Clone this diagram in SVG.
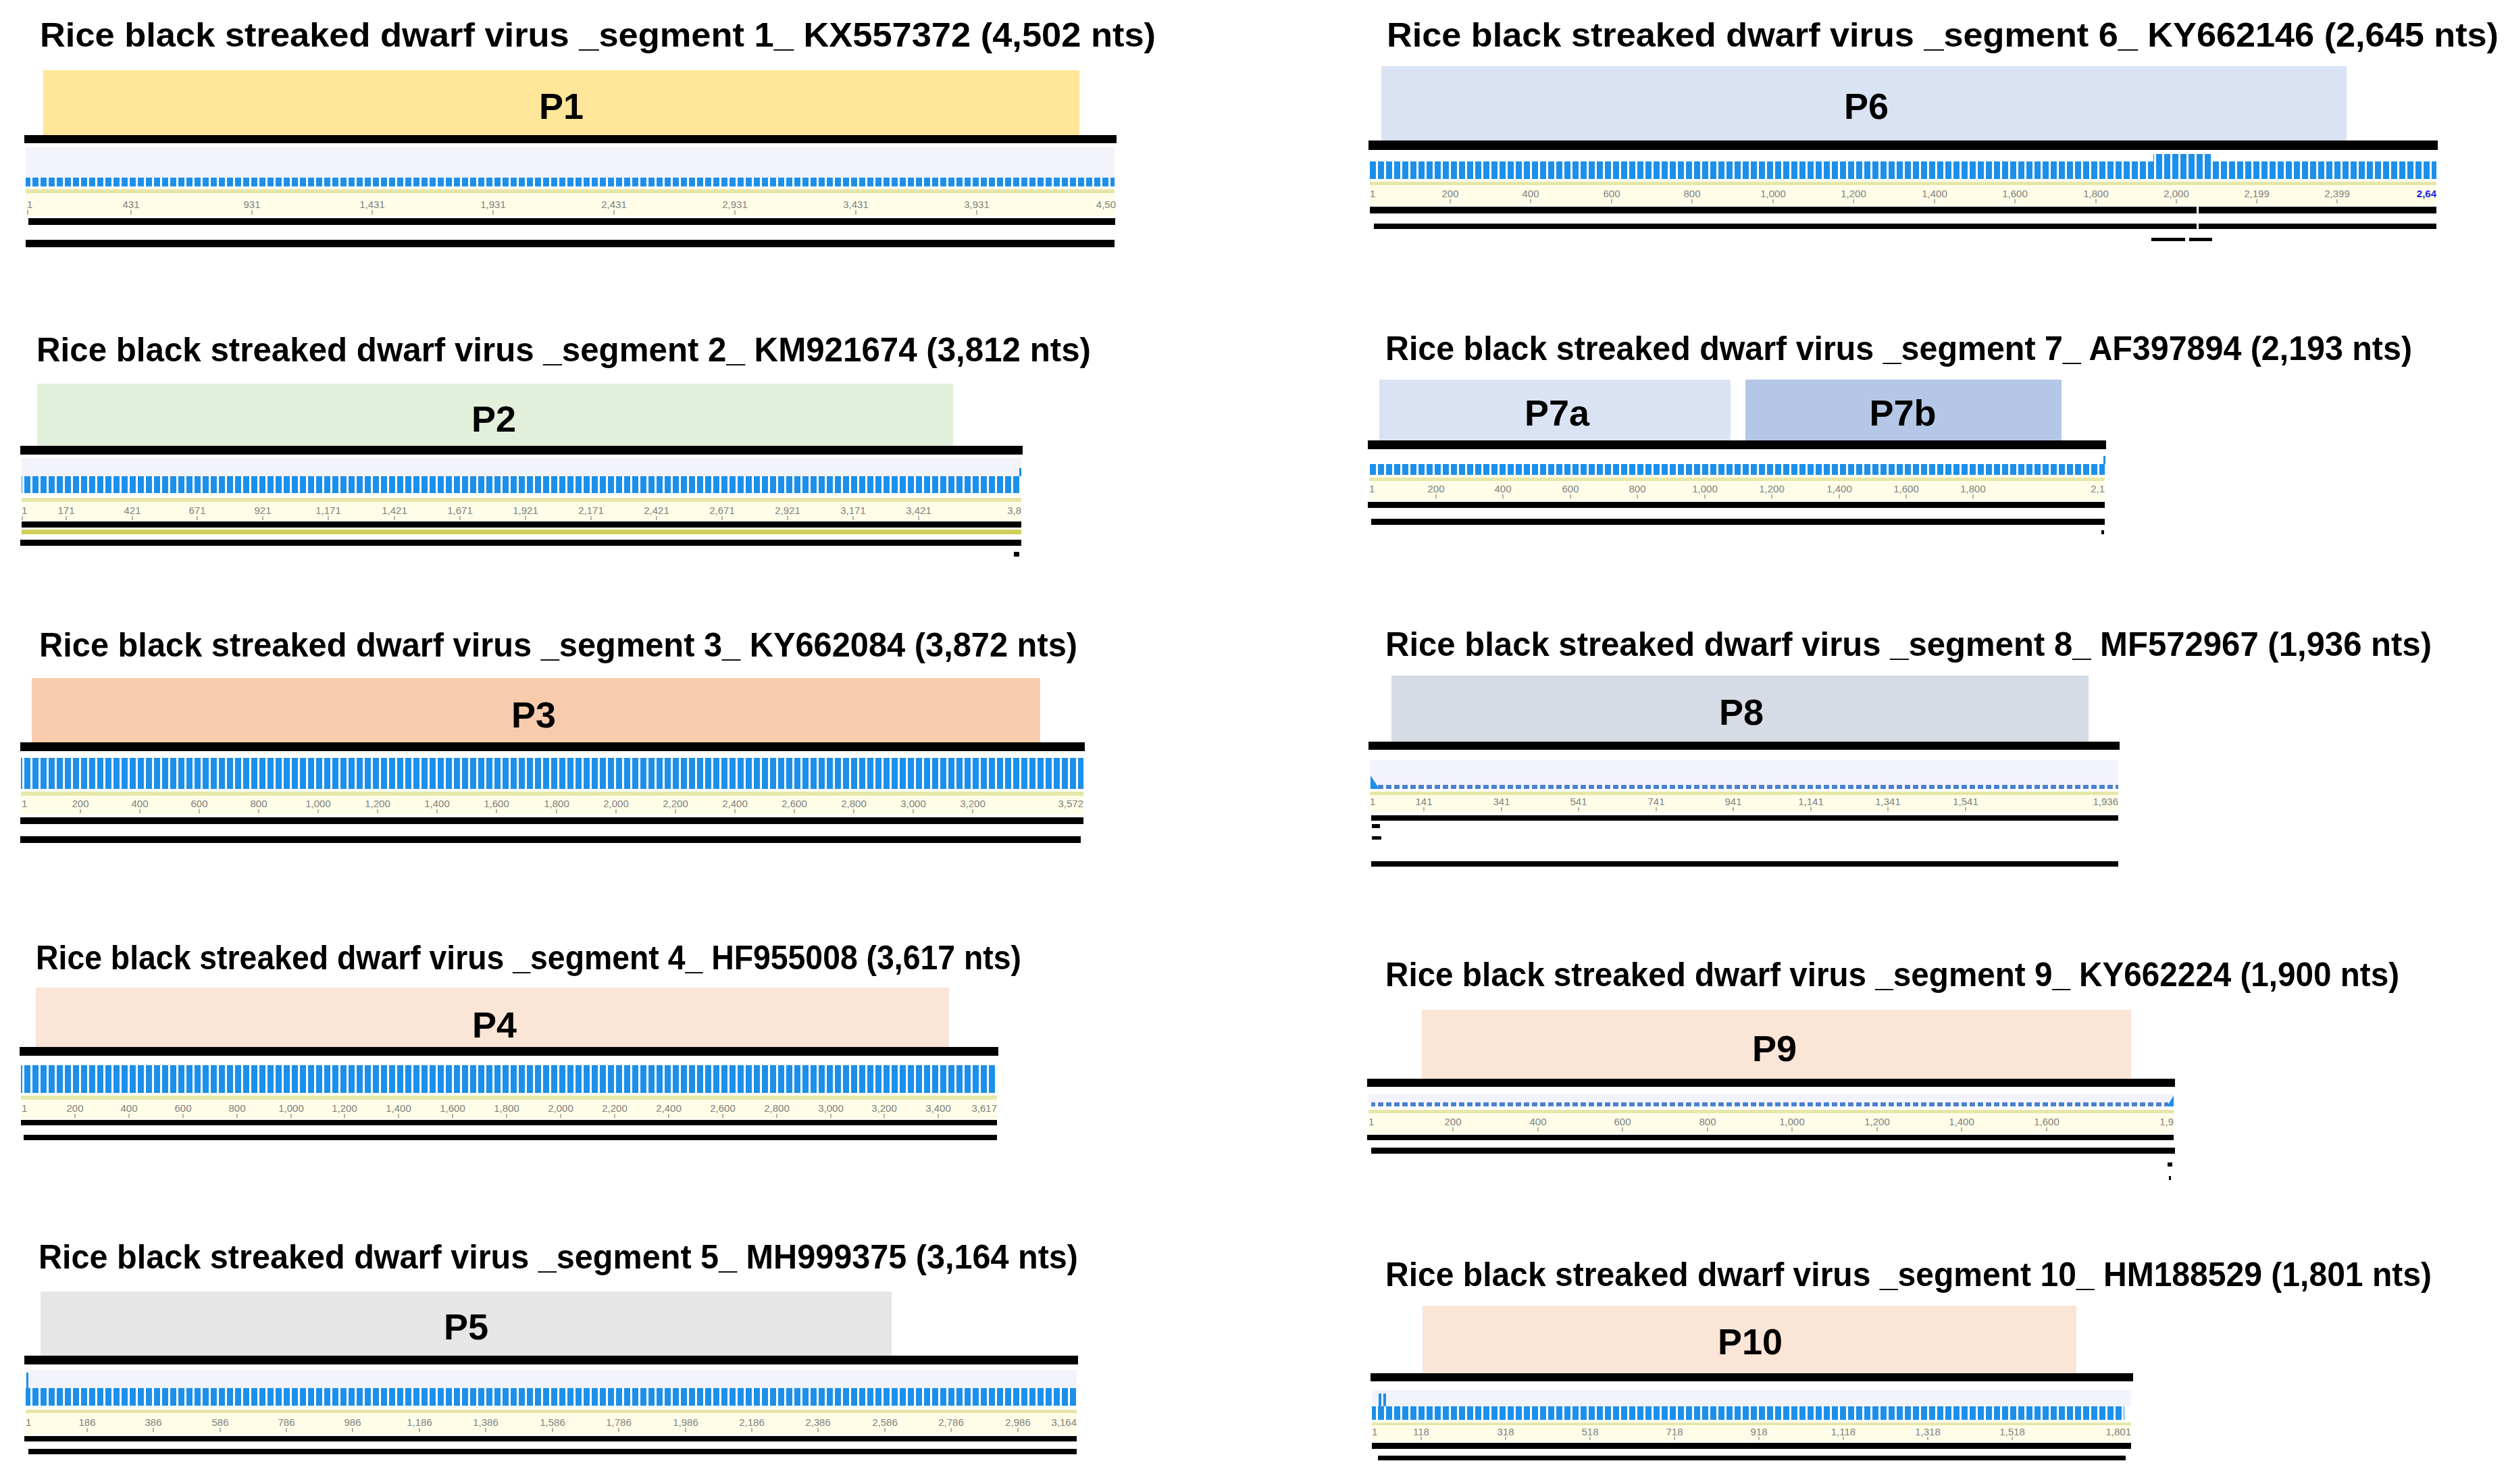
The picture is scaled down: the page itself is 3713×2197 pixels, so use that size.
<svg xmlns="http://www.w3.org/2000/svg" width="3713" height="2197" viewBox="0 0 3713 2197">
<defs>
<style>
.t{font-family:"Liberation Sans",Arial,sans-serif;font-weight:700;font-size:50px;fill:#000}
.p{font-family:"Liberation Sans",Arial,sans-serif;font-weight:700;font-size:54px;fill:#000;text-anchor:middle}
.n{font-family:"Liberation Sans",Arial,sans-serif;font-size:15px;fill:#808080;text-anchor:middle}
.ns{text-anchor:start}.ne{text-anchor:end}
.k{fill:#000}
.lav{fill:#F3F3FC}
.yl{fill:#E6E6A8}
.rl{fill:#FFFDE8}
.tk{stroke:#9a9a9a;stroke-width:1.5;fill:none}
.bar{fill:url(#bars)}
.dsh{fill:url(#dash)}
.sp{fill:#1C8FEA}
</style>
<pattern id="bars" patternUnits="userSpaceOnUse" width="12" height="400"><rect x="0" y="0" width="9" height="400" fill="#1C8FEA"/></pattern>
<pattern id="dash" patternUnits="userSpaceOnUse" width="12" height="400"><rect x="0" y="0" width="8" height="400" fill="#4A80D0"/></pattern>
</defs>
<rect width="3713" height="2197" fill="#fff"/>

<g id="seg1">
<text class="t" x="59" y="69" textLength="1652" lengthAdjust="spacingAndGlyphs">Rice black streaked dwarf virus _segment 1_ KX557372 (4,502 nts)</text>
<rect x="64" y="104" width="1534" height="96" fill="#FFE699"/>
<text class="p" x="831" y="176">P1</text>
<rect class="k" x="36" y="200" width="1617" height="12"/>
<rect class="lav" x="38" y="218" width="1612" height="45"/>
<rect class="bar" x="38" y="263" width="1612" height="13"/>
<rect class="yl" x="38" y="280" width="1612" height="6"/>
<rect class="rl" x="38" y="286" width="1612" height="34"/>
<g>
<text class="n ns" x="40" y="308">1</text><text class="n" x="194" y="308">431</text><text class="n" x="373" y="308">931</text><text class="n" x="551" y="308">1,431</text><text class="n" x="730" y="308">1,931</text><text class="n" x="909" y="308">2,431</text><text class="n" x="1088" y="308">2,931</text><text class="n" x="1267" y="308">3,431</text><text class="n" x="1446" y="308">3,931</text><text class="n ne" x="1652" y="308">4,50</text>
<path class="tk" d="M41 311V318M194 311V318M373 311V318M551 311V318M730 311V318M909 311V318M1088 311V318M1267 311V318M1446 311V318"/>
</g>
<rect class="k" x="42" y="323" width="1609" height="10"/>
<rect class="k" x="38" y="355" width="1612" height="11"/>
</g>

<g id="seg2">
<text class="t" x="54" y="535" textLength="1561" lengthAdjust="spacingAndGlyphs">Rice black streaked dwarf virus _segment 2_ KM921674 (3,812 nts)</text>
<rect x="55" y="568" width="1356" height="92" fill="#E2EFDA"/>
<text class="p" x="731" y="639">P2</text>
<rect class="k" x="30" y="660" width="1484" height="13"/>
<rect class="lav" x="32" y="678" width="1480" height="27"/>
<rect class="bar" x="32" y="705" width="1480" height="25"/>
<rect class="sp" x="1509" y="693" width="3" height="12"/>
<rect class="yl" x="32" y="737" width="1480" height="6"/>
<rect class="rl" x="32" y="743" width="1480" height="29"/>
<g>
<text class="n ns" x="32" y="761">1</text><text class="n" x="98" y="761">171</text><text class="n" x="196" y="761">421</text><text class="n" x="292" y="761">671</text><text class="n" x="389" y="761">921</text><text class="n" x="486" y="761">1,171</text><text class="n" x="584" y="761">1,421</text><text class="n" x="681" y="761">1,671</text><text class="n" x="778" y="761">1,921</text><text class="n" x="875" y="761">2,171</text><text class="n" x="972" y="761">2,421</text><text class="n" x="1069" y="761">2,671</text><text class="n" x="1166" y="761">2,921</text><text class="n" x="1263" y="761">3,171</text><text class="n" x="1360" y="761">3,421</text><text class="n ne" x="1512" y="761">3,8</text>
<path class="tk" d="M33 764V770M98 764V770M196 764V770M292 764V770M389 764V770M486 764V770M584 764V770M681 764V770M778 764V770M875 764V770M972 764V770M1069 764V770M1166 764V770M1263 764V770M1360 764V770"/>
</g>
<rect class="k" x="32" y="772" width="1480" height="9"/>
<rect x="32" y="784" width="1480" height="7" fill="#CFCF5A"/>
<rect class="k" x="30" y="799" width="1482" height="9"/>
<rect class="k" x="1501" y="817" width="8" height="7"/>
</g>

<g id="seg3">
<text class="t" x="58" y="972" textLength="1537" lengthAdjust="spacingAndGlyphs">Rice black streaked dwarf virus _segment 3_ KY662084 (3,872 nts)</text>
<rect x="47" y="1004" width="1493" height="95" fill="#F8CBAD"/>
<text class="p" x="790" y="1077">P3</text>
<rect class="k" x="30" y="1099" width="1576" height="13"/>
<rect class="bar" x="31" y="1122" width="1573" height="46"/>
<rect class="yl" x="31" y="1172" width="1573" height="6"/>
<rect class="rl" x="31" y="1178" width="1573" height="28"/>
<g>
<text class="n ns" x="32" y="1195">1</text><text class="n" x="119" y="1195">200</text><text class="n" x="207" y="1195">400</text><text class="n" x="295" y="1195">600</text><text class="n" x="383" y="1195">800</text><text class="n" x="471" y="1195">1,000</text><text class="n" x="559" y="1195">1,200</text><text class="n" x="647" y="1195">1,400</text><text class="n" x="735" y="1195">1,600</text><text class="n" x="824" y="1195">1,800</text><text class="n" x="912" y="1195">2,000</text><text class="n" x="1000" y="1195">2,200</text><text class="n" x="1088" y="1195">2,400</text><text class="n" x="1176" y="1195">2,600</text><text class="n" x="1264" y="1195">2,800</text><text class="n" x="1352" y="1195">3,000</text><text class="n" x="1440" y="1195">3,200</text><text class="n ne" x="1604" y="1195">3,572</text>
<path class="tk" d="M119 1198V1204M207 1198V1204M295 1198V1204M383 1198V1204M471 1198V1204M559 1198V1204M647 1198V1204M735 1198V1204M824 1198V1204M912 1198V1204M1000 1198V1204M1088 1198V1204M1176 1198V1204M1264 1198V1204M1352 1198V1204M1440 1198V1204"/>
</g>
<rect class="k" x="30" y="1210" width="1574" height="10"/>
<rect class="k" x="30" y="1238" width="1570" height="10"/>
</g>

<g id="seg4">
<text class="t" x="53" y="1435" textLength="1459" lengthAdjust="spacingAndGlyphs">Rice black streaked dwarf virus _segment 4_ HF955008 (3,617 nts)</text>
<rect x="53" y="1462" width="1352" height="88" fill="#FBE5D6"/>
<text class="p" x="732" y="1536">P4</text>
<rect class="k" x="29" y="1550" width="1449" height="13"/>
<rect class="bar" x="31" y="1577" width="1445" height="41"/>
<rect class="yl" x="31" y="1622" width="1445" height="6"/>
<rect class="rl" x="31" y="1628" width="1445" height="29"/>
<g>
<text class="n ns" x="32" y="1646">1</text><text class="n" x="111" y="1646">200</text><text class="n" x="191" y="1646">400</text><text class="n" x="271" y="1646">600</text><text class="n" x="351" y="1646">800</text><text class="n" x="431" y="1646">1,000</text><text class="n" x="510" y="1646">1,200</text><text class="n" x="590" y="1646">1,400</text><text class="n" x="670" y="1646">1,600</text><text class="n" x="750" y="1646">1,800</text><text class="n" x="830" y="1646">2,000</text><text class="n" x="910" y="1646">2,200</text><text class="n" x="990" y="1646">2,400</text><text class="n" x="1070" y="1646">2,600</text><text class="n" x="1150" y="1646">2,800</text><text class="n" x="1230" y="1646">3,000</text><text class="n" x="1309" y="1646">3,200</text><text class="n" x="1389" y="1646">3,400</text><text class="n ne" x="1476" y="1646">3,617</text>
<path class="tk" d="M111 1649V1655M191 1649V1655M271 1649V1655M351 1649V1655M431 1649V1655M510 1649V1655M590 1649V1655M670 1649V1655M750 1649V1655M830 1649V1655M910 1649V1655M990 1649V1655M1070 1649V1655M1150 1649V1655M1230 1649V1655M1309 1649V1655M1389 1649V1655"/>
</g>
<rect class="k" x="31" y="1658" width="1445" height="8"/>
<rect class="k" x="35" y="1680" width="1441" height="8"/>
</g>

<g id="seg5">
<text class="t" x="57" y="1878" textLength="1539" lengthAdjust="spacingAndGlyphs">Rice black streaked dwarf virus _segment 5_ MH999375 (3,164 nts)</text>
<rect x="60" y="1912" width="1260" height="95" fill="#E7E6E6"/>
<text class="p" x="690" y="1983">P5</text>
<rect class="k" x="36" y="2007" width="1560" height="13"/>
<rect class="lav" x="38" y="2028" width="1556" height="27"/>
<rect class="bar" x="38" y="2055" width="1556" height="26"/>
<rect class="sp" x="39" y="2032" width="3" height="23"/>
<rect class="yl" x="38" y="2087" width="1556" height="5"/>
<rect class="rl" x="38" y="2092" width="1556" height="31"/>
<g>
<text class="n ns" x="38" y="2111">1</text><text class="n" x="129" y="2111">186</text><text class="n" x="227" y="2111">386</text><text class="n" x="326" y="2111">586</text><text class="n" x="424" y="2111">786</text><text class="n" x="522" y="2111">986</text><text class="n" x="621" y="2111">1,186</text><text class="n" x="719" y="2111">1,386</text><text class="n" x="818" y="2111">1,586</text><text class="n" x="916" y="2111">1,786</text><text class="n" x="1015" y="2111">1,986</text><text class="n" x="1113" y="2111">2,186</text><text class="n" x="1211" y="2111">2,386</text><text class="n" x="1310" y="2111">2,586</text><text class="n" x="1408" y="2111">2,786</text><text class="n" x="1507" y="2111">2,986</text><text class="n ne" x="1594" y="2111">3,164</text>
<path class="tk" d="M129 2114V2120M227 2114V2120M326 2114V2120M424 2114V2120M522 2114V2120M621 2114V2120M719 2114V2120M818 2114V2120M916 2114V2120M1015 2114V2120M1113 2114V2120M1211 2114V2120M1310 2114V2120M1408 2114V2120M1507 2114V2120"/>
</g>
<rect class="k" x="36" y="2126" width="1558" height="8"/>
<rect class="k" x="42" y="2145" width="1552" height="8"/>
</g>

<g id="seg6">
<text class="t" x="2053" y="69" textLength="1646" lengthAdjust="spacingAndGlyphs">Rice black streaked dwarf virus _segment 6_ KY662146 (2,645 nts)</text>
<rect x="2045" y="98" width="1429" height="110" fill="#DAE3F3"/>
<text class="p" x="2763" y="176">P6</text>
<rect class="k" x="2026" y="208" width="1583" height="14"/>
<rect class="bar" x="2028" y="239" width="1579" height="26"/>
<rect class="bar" x="3188" y="228" width="87" height="11"/>
<rect class="yl" x="2028" y="269" width="1579" height="5"/>
<rect class="rl" x="2028" y="274" width="1579" height="30"/>
<g>
<text class="n ns" x="2028" y="292">1</text><text class="n" x="2147" y="292">200</text><text class="n" x="2266" y="292">400</text><text class="n" x="2386" y="292">600</text><text class="n" x="2505" y="292">800</text><text class="n" x="2625" y="292">1,000</text><text class="n" x="2744" y="292">1,200</text><text class="n" x="2864" y="292">1,400</text><text class="n" x="2983" y="292">1,600</text><text class="n" x="3103" y="292">1,800</text><text class="n" x="3222" y="292">2,000</text><text class="n" x="3341" y="292">2,199</text><text class="n" x="3460" y="292">2,399</text><text class="n ne" x="3607" y="292" style="fill:#2020E0;font-weight:700">2,64</text>
<path class="tk" d="M2147 295V301M2266 295V301M2386 295V301M2505 295V301M2625 295V301M2744 295V301M2864 295V301M2983 295V301M3103 295V301M3222 295V301M3341 295V301M3460 295V301"/>
</g>
<rect class="k" x="2028" y="306" width="1224" height="10"/>
<rect class="k" x="3255" y="306" width="352" height="10"/>
<rect class="k" x="2034" y="331" width="1218" height="8"/>
<rect class="k" x="3255" y="331" width="352" height="8"/>
<rect class="k" x="3185" y="352" width="50" height="5"/>
<rect class="k" x="3241" y="352" width="34" height="5"/>
</g>

<g id="seg7">
<text class="t" x="2051" y="533" textLength="1520" lengthAdjust="spacingAndGlyphs">Rice black streaked dwarf virus _segment 7_ AF397894 (2,193 nts)</text>
<rect x="2042" y="562" width="520" height="90" fill="#DAE3F3"/>
<rect x="2584" y="562" width="468" height="90" fill="#B4C7E7"/>
<text class="p" x="2305" y="630">P7a</text>
<text class="p" x="2817" y="630">P7b</text>
<rect class="k" x="2025" y="652" width="1093" height="13"/>
<rect class="bar" x="2027" y="687" width="1089" height="16"/>
<rect class="sp" x="3114" y="675" width="3" height="12"/>
<rect class="yl" x="2027" y="707" width="1089" height="5"/>
<rect class="rl" x="2027" y="712" width="1089" height="28"/>
<g>
<text class="n ns" x="2027" y="729">1</text><text class="n" x="2126" y="729">200</text><text class="n" x="2225" y="729">400</text><text class="n" x="2325" y="729">600</text><text class="n" x="2424" y="729">800</text><text class="n" x="2524" y="729">1,000</text><text class="n" x="2623" y="729">1,200</text><text class="n" x="2723" y="729">1,400</text><text class="n" x="2822" y="729">1,600</text><text class="n" x="2921" y="729">1,800</text><text class="n ne" x="3116" y="729">2,1</text>
<path class="tk" d="M2126 732V738M2225 732V738M2325 732V738M2424 732V738M2524 732V738M2623 732V738M2723 732V738M2822 732V738M2921 732V738"/>
</g>
<rect class="k" x="2025" y="743" width="1091" height="9"/>
<rect class="k" x="2030" y="768" width="1086" height="9"/>
<rect class="k" x="3111" y="785" width="4" height="6"/>
</g>

<g id="seg8">
<text class="t" x="2051" y="971" textLength="1549" lengthAdjust="spacingAndGlyphs">Rice black streaked dwarf virus _segment 8_ MF572967 (1,936 nts)</text>
<rect x="2060" y="1000" width="1032" height="98" fill="#D6DCE5"/>
<text class="p" x="2578" y="1073">P8</text>
<rect class="k" x="2026" y="1098" width="1112" height="12"/>
<rect class="lav" x="2028" y="1125" width="1108" height="38"/>
<rect class="dsh" x="2040" y="1162" width="1096" height="6"/>
<path d="M2029 1148L2042 1168H2029Z" class="sp"/>
<rect class="yl" x="2028" y="1172" width="1108" height="5"/>
<rect class="rl" x="2028" y="1177" width="1108" height="26"/>
<g>
<text class="n ns" x="2028" y="1192">1</text><text class="n" x="2108" y="1192">141</text><text class="n" x="2223" y="1192">341</text><text class="n" x="2337" y="1192">541</text><text class="n" x="2452" y="1192">741</text><text class="n" x="2566" y="1192">941</text><text class="n" x="2681" y="1192">1,141</text><text class="n" x="2795" y="1192">1,341</text><text class="n" x="2910" y="1192">1,541</text><text class="n ne" x="3136" y="1192">1,936</text>
<path class="tk" d="M2108 1195V1201M2223 1195V1201M2337 1195V1201M2452 1195V1201M2566 1195V1201M2681 1195V1201M2795 1195V1201M2910 1195V1201"/>
</g>
<rect class="k" x="2030" y="1207" width="1106" height="8"/>
<rect class="k" x="2031" y="1220" width="12" height="6"/>
<rect class="k" x="2031" y="1238" width="14" height="5"/>
<rect class="k" x="2030" y="1275" width="1106" height="8"/>
</g>

<g id="seg9">
<text class="t" x="2051" y="1460" textLength="1501" lengthAdjust="spacingAndGlyphs">Rice black streaked dwarf virus _segment 9_ KY662224 (1,900 nts)</text>
<rect x="2105" y="1495" width="1050" height="102" fill="#FBE5D6"/>
<text class="p" x="2627" y="1571">P9</text>
<rect class="k" x="2024" y="1597" width="1196" height="12"/>
<rect class="lav" x="2026" y="1620" width="1192" height="12"/>
<rect class="dsh" x="2030" y="1632" width="1180" height="6"/>
<path d="M3218 1622L3208 1638H3218Z" class="sp"/>
<rect class="yl" x="2026" y="1643" width="1192" height="5"/>
<rect class="rl" x="2026" y="1648" width="1192" height="30"/>
<g>
<text class="n ns" x="2026" y="1666">1</text><text class="n" x="2151" y="1666">200</text><text class="n" x="2277" y="1666">400</text><text class="n" x="2402" y="1666">600</text><text class="n" x="2528" y="1666">800</text><text class="n" x="2653" y="1666">1,000</text><text class="n" x="2779" y="1666">1,200</text><text class="n" x="2904" y="1666">1,400</text><text class="n" x="3030" y="1666">1,600</text><text class="n ne" x="3218" y="1666">1,9</text>
<path class="tk" d="M2151 1669V1675M2277 1669V1675M2402 1669V1675M2528 1669V1675M2653 1669V1675M2779 1669V1675M2904 1669V1675M3030 1669V1675"/>
</g>
<rect class="k" x="2024" y="1680" width="1194" height="8"/>
<rect class="k" x="2030" y="1699" width="1190" height="9"/>
<rect class="k" x="3209" y="1721" width="7" height="6"/>
<rect class="k" x="3211" y="1741" width="3" height="6"/>
</g>

<g id="seg10">
<text class="t" x="2051" y="1904" textLength="1549" lengthAdjust="spacingAndGlyphs">Rice black streaked dwarf virus _segment 10_ HM188529 (1,801 nts)</text>
<rect x="2106" y="1933" width="968" height="100" fill="#FBE5D6"/>
<text class="p" x="2591" y="2005">P10</text>
<rect class="k" x="2029" y="2033" width="1129" height="12"/>
<rect class="lav" x="2031" y="2058" width="1124" height="24"/>
<rect class="bar" x="2031" y="2082" width="1114" height="20"/>
<rect class="sp" x="2041" y="2063" width="4" height="19"/>
<rect class="sp" x="2048" y="2063" width="4" height="19"/>
<rect class="yl" x="2031" y="2106" width="1124" height="4"/>
<rect class="rl" x="2031" y="2110" width="1124" height="23"/>
<g>
<text class="n ns" x="2031" y="2125">1</text><text class="n" x="2104" y="2125">118</text><text class="n" x="2229" y="2125">318</text><text class="n" x="2354" y="2125">518</text><text class="n" x="2479" y="2125">718</text><text class="n" x="2604" y="2125">918</text><text class="n" x="2729" y="2125">1,118</text><text class="n" x="2854" y="2125">1,318</text><text class="n" x="2979" y="2125">1,518</text><text class="n ne" x="3155" y="2125">1,801</text>
<path class="tk" d="M2104 2127V2132M2229 2127V2132M2354 2127V2132M2479 2127V2132M2604 2127V2132M2729 2127V2132M2854 2127V2132M2979 2127V2132"/>
</g>
<rect class="k" x="2031" y="2136" width="1124" height="9"/>
<rect class="k" x="2040" y="2155" width="1107" height="7"/>
</g>

<g id="connectors"/>
</svg>
